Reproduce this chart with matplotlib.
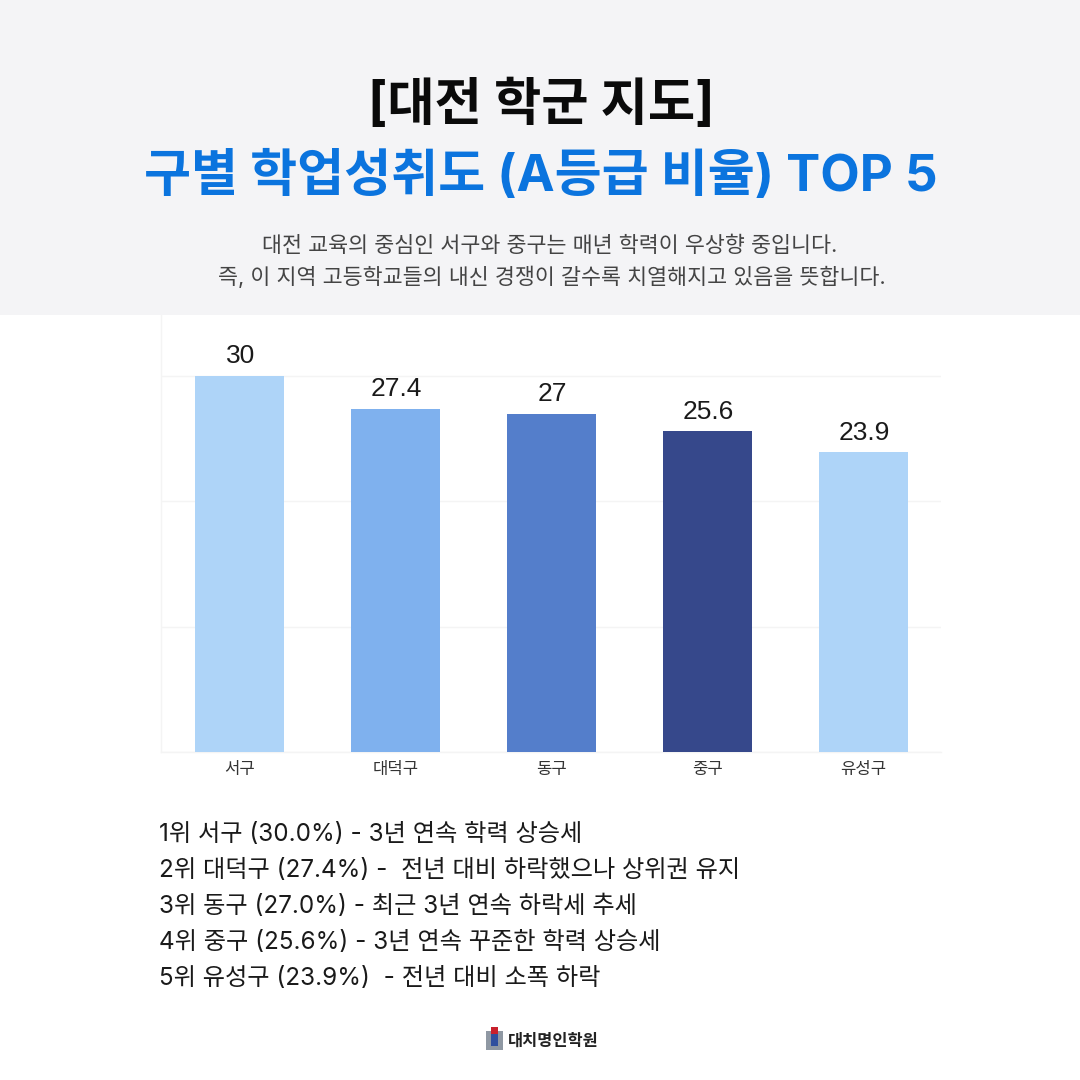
import matplotlib
matplotlib.use("Agg")
import matplotlib.pyplot as plt
from matplotlib.patches import Rectangle

plt.rcParams["font.family"] = ["Inter", "Noto Sans CJK KR", "DejaVu Sans"]

districts = ["서구", "대덕구", "동구", "중구", "유성구"]
rates = [30, 27.4, 27, 25.6, 23.9]
value_labels = ["30", "27.4", "27", "25.6", "23.9"]
bar_colors = ["#aed4f8", "#7fb1ee", "#547ecb", "#36488b", "#aed4f8"]
y_ticks = [0, 10, 20, 30]

ranking = [
    "1위 서구 (30.0%) - 3년 연속 학력 상승세",
    "2위 대덕구 (27.4%) -  전년 대비 하락했으나 상위권 유지",
    "3위 동구 (27.0%) - 최근 3년 연속 하락세 추세",
    "4위 중구 (25.6%) - 3년 연속 꾸준한 학력 상승세",
    "5위 유성구 (23.9%)  - 전년 대비 소폭 하락",
]
rank_y = [834, 870, 906, 943, 979]

W = 1080


def fx(px):
    return px / W


def fy(px):
    return 1 - px / W


fig = plt.figure(figsize=(10.8, 10.8), dpi=100, facecolor="white")

# header band
fig.add_artist(Rectangle((0, fy(315)), 1, 315 / W, transform=fig.transFigure,
                         facecolor="#f4f4f6", edgecolor="none"))
fig.text(fx(541), fy(106), "[대전 학군 지도]", ha="center", va="center",
         fontsize=37, fontweight="bold", color="#0a0a0a")
fig.text(fx(541), fy(176), "구별 학업성취도 (A등급 비율) TOP 5", ha="center", va="center",
         fontsize=36.8, fontweight="bold", color="#0b74de")
fig.text(fx(550), fy(246), "대전 교육의 중심인 서구와 중구는 매년 학력이 우상향 중입니다.",
         ha="center", va="center", fontsize=15.65, color="#444444")
fig.text(fx(552), fy(277), "즉, 이 지역 고등학교들의 내신 경쟁이 갈수록 치열해지고 있음을 뜻합니다.",
         ha="center", va="center", fontsize=15.65, color="#444444")

# chart
ax = fig.add_axes([fx(161), fy(752), fx(780), 437 / W])
ax.bar(range(len(districts)), rates, width=0.57, color=bar_colors, zorder=3)
ax.set_xlim(-0.503, 4.497)
ax.set_ylim(0, 34.87)
ax.set_yticks(y_ticks)
ax.set_yticklabels([])
ax.tick_params(axis="both", length=0)
ax.grid(axis="y", color="#f4f4f4", linewidth=1, zorder=0)
ax.set_axisbelow(True)
ax.set_xticks(range(len(districts)))
ax.set_xticklabels(districts, fontsize=12, fontweight="medium", color="#333333")
ax.tick_params(axis="x", pad=7)
for side in ["top", "right"]:
    ax.spines[side].set_visible(False)
for side in ["left", "bottom"]:
    ax.spines[side].set_color("#f4f4f4")
    ax.spines[side].set_linewidth(1)

for i, label in enumerate(value_labels):
    ax.annotate(label, (i, rates[i]), xytext=(0.5, 5.5), textcoords="offset points",
                ha="center", va="bottom", fontsize=19, color="#1a1a1a",
                family=["Liberation Sans"])

# ranking list
for line, y in zip(ranking, rank_y):
    fig.text(fx(159), fy(y), line, ha="left", va="center", fontsize=17.45, color="#1a1a1a")

# logo
fig.add_artist(Rectangle((fx(486), fy(1050)), 17 / W, 19 / W, transform=fig.transFigure,
                         facecolor="#8f98a3", edgecolor="none"))
fig.add_artist(Rectangle((fx(491), fy(1046)), 7 / W, 15 / W, transform=fig.transFigure,
                         facecolor="#2f4f9e", edgecolor="none"))
fig.add_artist(Rectangle((fx(491), fy(1034)), 7 / W, 7 / W, transform=fig.transFigure,
                         facecolor="#c8202c", edgecolor="none"))
fig.text(fx(508), fy(1041), "대치명인학원", ha="left", va="center",
         fontsize=11.8, fontweight="bold", color="#222222")

fig.savefig("out.png", dpi=100)
